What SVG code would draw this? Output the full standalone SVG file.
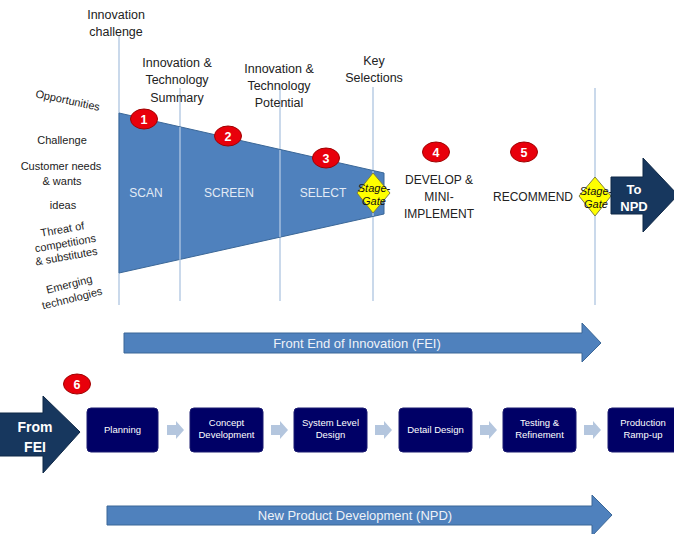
<svg xmlns="http://www.w3.org/2000/svg" width="674" height="534" viewBox="0 0 674 534">
  <style>
    text { font-family: "Liberation Sans", Arial, sans-serif; }
    .lbl { font-size: 12.5px; fill: #222; text-anchor: middle; }
    .side { font-size: 11px; fill: #222; text-anchor: middle; }
    .phase { font-size: 12px; fill: #e3ebf5; text-anchor: middle; }
    .step { font-size: 12px; fill: #222; text-anchor: middle; }
    .vline { stroke: #b9cde5; stroke-width: 1.5; fill: none; }
    .badge ellipse { fill: #e8000b; stroke: #a00000; stroke-width: 1; }
    .badge text { font-size: 12.5px; font-weight: bold; fill: #fff; text-anchor: middle; }
    .gate polygon { fill: #ffff00; stroke: #7f7f40; stroke-width: 1; }
    .gate text { font-size: 11px; font-style: italic; fill: #111; text-anchor: middle; }
    .box rect { fill: #000066; stroke: #1a1a70; stroke-width: 1; }
    .box text { font-size: 9.5px; fill: #fff; text-anchor: middle; }
    .band { fill: #4f81bd; stroke: #3b6797; stroke-width: 1; }
    .band-text { font-size: 13px; fill: #eef2f8; text-anchor: middle; }
    .navy { fill: #17375e; stroke: #0f2846; stroke-width: 1; }
    .navy-text { font-size: 13px; font-weight: bold; fill: #fff; text-anchor: middle; }
    .chev { fill: #b4c6de; }
  </style>

  <!-- milestone guide lines -->
  <g id="guides">
    <line class="vline" x1="119" y1="36" x2="119" y2="305"/>
    <line class="vline" x1="180" y1="88" x2="180" y2="301"/>
    <line class="vline" x1="280" y1="84" x2="280" y2="301"/>
    <line class="vline" x1="373" y1="87" x2="373" y2="301"/>
    <line class="vline" x1="595" y1="88" x2="595" y2="305"/>
  </g>

  <!-- milestone captions -->
  <g id="captions">
    <text class="lbl" x="116" y="19">Innovation</text>
    <text class="lbl" x="116" y="36">challenge</text>
    <text class="lbl" x="177" y="67">Innovation &amp;</text>
    <text class="lbl" x="177" y="84">Technology</text>
    <text class="lbl" x="177" y="102">Summary</text>
    <text class="lbl" x="279" y="73">Innovation &amp;</text>
    <text class="lbl" x="279" y="90">Technology</text>
    <text class="lbl" x="279" y="107">Potential</text>
    <text class="lbl" x="374" y="65">Key</text>
    <text class="lbl" x="374" y="82">Selections</text>
  </g>

  <!-- input sources on the left -->
  <g id="inputs">
    <text class="side" transform="translate(67,104) rotate(12)">Opportunities</text>
    <text class="side" x="62" y="144">Challenge</text>
    <text class="side" x="61" y="170">Customer needs</text>
    <text class="side" x="62" y="185">&amp; wants</text>
    <text class="side" x="63" y="209">ideas</text>
    <text class="side" transform="translate(63,233) rotate(-10)">Threat of</text>
    <text class="side" transform="translate(66,247) rotate(-10)">competitions</text>
    <text class="side" transform="translate(67,260) rotate(-10)">&amp; substitutes</text>
    <text class="side" transform="translate(70,288) rotate(-14)">Emerging</text>
    <text class="side" transform="translate(73,302) rotate(-14)">technologies</text>
  </g>

  <!-- funnel -->
  <g id="funnel">
    <polygon points="119,113 384,173 384,214 119,273" fill="#4f81bd" stroke="#3b6797" stroke-width="1"/>
    <line class="vline" x1="180" y1="127" x2="180" y2="260" stroke-opacity="0.8"/>
    <line class="vline" x1="280" y1="150" x2="280" y2="237" stroke-opacity="0.8"/>
    <line class="vline" x1="373" y1="171" x2="373" y2="216" stroke-opacity="0.8"/>
    <text class="phase" x="146" y="197">SCAN</text>
    <text class="phase" x="229" y="197">SCREEN</text>
    <text class="phase" x="323" y="197">SELECT</text>
  </g>

  <g id="step-develop">
    <text class="step" x="439" y="184">DEVELOP &amp;</text>
    <text class="step" x="439" y="201">MINI-</text>
    <text class="step" x="439" y="218">IMPLEMENT</text>
  </g>
  <g id="step-recommend">
    <text class="step" x="533" y="201">RECOMMEND</text>
  </g>

  <!-- stage gates -->
  <g id="gate-1" class="gate">
    <polygon points="373,173 390,193 373,213 357,193"/>
    <text x="374" y="192">Stage-</text>
    <text x="374" y="205">Gate</text>
  </g>
  <g id="gate-2" class="gate">
    <polygon points="595,177 611,196 595,216 579,196"/>
    <text x="596" y="195">Stage-</text>
    <text x="596" y="208">Gate</text>
  </g>

  <!-- hand-off arrows -->
  <g id="to-npd">
    <polygon class="navy" points="611,177 643,177 643,158 678,195 643,232 643,214 611,214"/>
    <text class="navy-text" x="634" y="194">To</text>
    <text class="navy-text" x="634" y="211">NPD</text>
  </g>
  <g id="from-fei">
    <polygon class="navy" points="-2,413 43,413 43,396 80,432 43,473 43,456 -2,456"/>
    <text class="navy-text" x="35" y="432" style="font-size:14px">From</text>
    <text class="navy-text" x="35" y="452" style="font-size:14px">FEI</text>
  </g>

  <!-- numbered badges -->
  <g id="badge-1" class="badge"><ellipse cx="144" cy="119" rx="13.5" ry="10"/><text x="144" y="123.5">1</text></g>
  <g id="badge-2" class="badge"><ellipse cx="228" cy="136" rx="13.5" ry="10"/><text x="228" y="140.5">2</text></g>
  <g id="badge-3" class="badge"><ellipse cx="326" cy="158" rx="13.5" ry="10"/><text x="326" y="162.5">3</text></g>
  <g id="badge-4" class="badge"><ellipse cx="436" cy="152" rx="13.5" ry="10"/><text x="436" y="156.5">4</text></g>
  <g id="badge-5" class="badge"><ellipse cx="524" cy="152" rx="13.5" ry="10"/><text x="524" y="156.5">5</text></g>
  <g id="badge-6" class="badge"><ellipse cx="77" cy="384" rx="13.5" ry="10"/><text x="77" y="388.5">6</text></g>

  <!-- process bands -->
  <g id="band-fei">
    <polygon class="band" points="124,333 582,333 582,323 601,343 582,362 582,353 124,353"/>
    <text class="band-text" x="357" y="348">Front End of Innovation (FEI)</text>
  </g>
  <g id="band-npd">
    <polygon class="band" points="107,506 592,506 592,495 612,515 592,536 592,525 107,525"/>
    <text class="band-text" x="355" y="520">New Product Development (NPD)</text>
  </g>

  <!-- NPD stages -->
  <g id="npd-planning" class="box">
    <rect x="87" y="408" width="71" height="44" rx="4"/>
    <text x="122.5" y="433">Planning</text>
  </g>
  <g id="npd-concept" class="box">
    <rect x="190" y="408" width="73" height="44" rx="4"/>
    <text x="226.5" y="426">Concept</text>
    <text x="226.5" y="438">Development</text>
  </g>
  <g id="npd-system" class="box">
    <rect x="294" y="408" width="73" height="44" rx="4"/>
    <text x="330.5" y="426">System Level</text>
    <text x="330.5" y="438">Design</text>
  </g>
  <g id="npd-detail" class="box">
    <rect x="399" y="408" width="73" height="44" rx="4"/>
    <text x="435.5" y="433">Detail Design</text>
  </g>
  <g id="npd-testing" class="box">
    <rect x="503" y="408" width="73" height="44" rx="4"/>
    <text x="539.5" y="426">Testing &amp;</text>
    <text x="539.5" y="438">Refinement</text>
  </g>
  <g id="npd-production" class="box">
    <rect x="608" y="408" width="73" height="44" rx="4"/>
    <text x="643" y="426">Production</text>
    <text x="643" y="438">Ramp-up</text>
  </g>

  <!-- stage connectors -->
  <g id="connectors">
    <polygon class="chev" points="167,425 176,425 176,421 184,430 176,439 176,435 167,435"/>
    <polygon class="chev" points="271,425 280,425 280,421 288,430 280,439 280,435 271,435"/>
    <polygon class="chev" points="375,425 384,425 384,421 392,430 384,439 384,435 375,435"/>
    <polygon class="chev" points="480,425 489,425 489,421 497,430 489,439 489,435 480,435"/>
    <polygon class="chev" points="584,425 593,425 593,421 601,430 593,439 593,435 584,435"/>
  </g>
</svg>
